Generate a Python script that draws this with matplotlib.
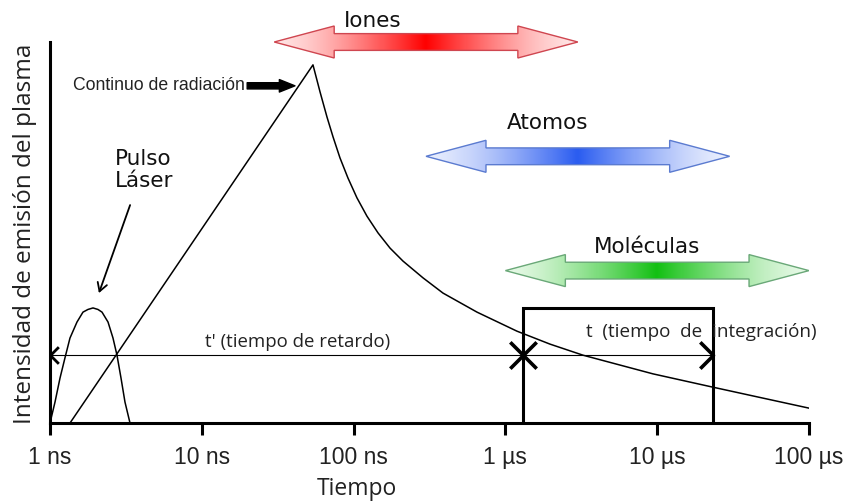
import numpy as np
import matplotlib
matplotlib.use("Agg")
import matplotlib.pyplot as plt
from matplotlib.patches import Polygon, FancyArrowPatch
from matplotlib.collections import PolyCollection
from matplotlib.path import Path
from matplotlib.colors import to_rgb

# Time axis (ns)
tick_times = [1, 10, 100, 1e3, 1e4, 1e5]
tick_labels = ["1 ns", "10 ns", "100 ns", "1 µs", "10 µs", "100 µs"]

# Laser pulse profile
pulse_t = [1.0, 1.079, 1.164, 1.255, 1.354, 1.506, 1.649, 1.778, 1.92, 2.07,
           2.201, 2.411, 2.6, 2.762, 2.936, 3.118, 3.365]
pulse_i = [0, 5.5, 11.8, 17.1, 22.3, 26.5, 29.1, 29.8, 30.2, 29.8,
           29.1, 26.5, 22.3, 17.8, 11.8, 5.5, 0]

# Plasma continuum emission: linear rise (log time) then decay
plasma_t = [1.355, 54, 60.1, 66.8, 73.2, 81.3, 91.8, 105.2, 122.4, 144.8,
            173.8, 211.5, 286.5, 388, 650, 1192, 1968, 3244, 9376,
            23300, 42800, 100000]
plasma_i = [0, 94.0, 86.9, 80.3, 75.1, 69.6, 64.3, 59.1, 54.3, 49.9,
            45.9, 42.5, 38.1, 34.1, 29.1, 24.1, 20.7, 17.8, 12.9,
            9.4, 7.1, 3.9]

# Delay and integration gate
delay_level = 17.8
gate_start = 1306
gate_end = 23300
gate_height = 30.2

# Lifetime ranges of emitting species
species = ["Iones", "Atomos", "Moléculas"]
species_start = [30, 300, 1000]
species_end = [3000, 30000, 100000]
species_level = [100, 70, 40]
species_color = ["#ff0000", "#2a5cf0", "#12c012"]
species_edge = ["#cf4650", "#5b7bd0", "#6aa878"]
species_label_t = [134, 1909, 8570]
species_label_i = [105.5, 78.7, 46.2]

TEXT_FONT = ["Open Sans", "DejaVu Sans"]
LABEL_FONT = ["DejaVu Sans"]
TICK_FONT = ["Liberation Sans", "DejaVu Sans"]

fig = plt.figure(figsize=(8.44, 5.04), dpi=100)
ax = fig.add_axes([50 / 844, 1 - 423 / 504, 759 / 844, 110 * 3.81 / 504])
ax.set_xscale("log")
ax.set_xlim(tick_times[0], tick_times[-1])
ax.set_ylim(0, 110)

for side in ("top", "right"):
    ax.spines[side].set_visible(False)
ax.spines["left"].set_bounds(0, 100)
ax.spines["left"].set_linewidth(2.2)
ax.spines["bottom"].set_linewidth(2.2)
ax.set_yticks([])
ax.set_xticks(tick_times)
ax.set_xticklabels(tick_labels, fontfamily=TICK_FONT, fontsize=16.5, color="#222222")
ax.xaxis.set_minor_locator(matplotlib.ticker.NullLocator())
ax.tick_params(axis="x", direction="out", length=8.6, width=2.2, pad=8)

# Curves
ax.plot(pulse_t, pulse_i, color="black", lw=1.1, solid_joinstyle="round")
ax.plot(plasma_t, plasma_i, color="black", lw=1.1, solid_joinstyle="round")

# Integration gate box
ax.plot([gate_start, gate_start, gate_end, gate_end],
        [0, gate_height, gate_height, 0], color="black", lw=2.2,
        solid_joinstyle="miter")

# Delay line and gate span
ax.plot([tick_times[0], gate_end], [delay_level, delay_level], color="black", lw=0.8)
head_right = Path([(-1.0, 1.0), (0.0, 0.0), (-1.0, -1.0)],
                  [Path.MOVETO, Path.LINETO, Path.LINETO])
head_left = Path([(1.0, 1.0), (0.0, 0.0), (1.0, -1.0)],
                 [Path.MOVETO, Path.LINETO, Path.LINETO])
ax.plot([tick_times[0]], [delay_level], marker=head_left, ms=12, mew=2.0,
        mfc="none", mec="black", clip_on=False)
ax.plot([gate_start], [delay_level], marker=head_right, ms=19, mew=2.6,
        mfc="none", mec="black")
ax.plot([gate_start], [delay_level], marker=head_left, ms=19, mew=2.6,
        mfc="none", mec="black")
ax.plot([gate_end], [delay_level], marker=head_right, ms=19, mew=2.6,
        mfc="none", mec="black")

ax.text(43, 21.3, "t' (tiempo de retardo)", fontfamily=TEXT_FONT, fontsize=13.4,
        ha="center", va="center", color="#222222")
ax.text(19450, 23.9, "t  (tiempo  de  integración)", fontfamily=TEXT_FONT,
        fontsize=13.6, ha="center", va="center", color="#222222")

# Laser pulse label
ax.text(2.68, 66.4, "Pulso\nLáser", fontfamily=LABEL_FONT, fontsize=15.5,
        ha="left", va="center", linespacing=1.1, color="#111111")
ax.annotate("", xy=(2.10, 34.1), xytext=(3.37, 57.2),
            arrowprops=dict(arrowstyle="->,head_length=0.6,head_width=0.35",
                            lw=1.3, color="black", shrinkA=0, shrinkB=0))

# Continuum label with bold arrow
ax.text(19.3, 88.5, "Continuo de radiación", fontfamily=TICK_FONT, fontsize=12.7,
        ha="right", va="center", color="#222222")
ax.add_patch(FancyArrowPatch((19.9, 88.5), (41.1, 88.5),
                             arrowstyle="simple,head_length=0.75,head_width=0.6,tail_width=0.3",
                             mutation_scale=15, color="black", shrinkA=0, shrinkB=0))

# Species double arrows with gradient fill
HEAD_LEN = 0.395   # decades
HEAD_HALF = 4.2
SHAFT_HALF = 2.2
for name, t0, t1, lvl, col, edge, lt, li in zip(species, species_start, species_end,
                                                 species_level, species_color,
                                                 species_edge, species_label_t,
                                                 species_label_i):
    u0, u1 = np.log10(t0), np.log10(t1)
    pts_u = [(u0, lvl), (u0 + HEAD_LEN, lvl + HEAD_HALF), (u0 + HEAD_LEN, lvl + SHAFT_HALF),
             (u1 - HEAD_LEN, lvl + SHAFT_HALF), (u1 - HEAD_LEN, lvl + HEAD_HALF), (u1, lvl),
             (u1 - HEAD_LEN, lvl - HEAD_HALF), (u1 - HEAD_LEN, lvl - SHAFT_HALF),
             (u0 + HEAD_LEN, lvl - SHAFT_HALF), (u0 + HEAD_LEN, lvl - HEAD_HALF)]
    xy = [(10 ** u, v) for u, v in pts_u]
    outline = Polygon(xy, closed=True, facecolor="none", edgecolor=edge, lw=1.0, zorder=3)
    ax.add_patch(outline)

    edges_u = np.linspace(u0, u1, 301)
    mids = 0.5 * (edges_u[:-1] + edges_u[1:])
    s = np.abs(2 * (mids - 0.5 * (u0 + u1)) / (u1 - u0))
    w = (1 - s) ** 1.4
    c = np.array(to_rgb(col))
    pale = 0.9 * np.ones(3) + 0.1 * c
    colors = [pale + wi * (c - pale) for wi in w]
    strips = [[(10 ** a, lvl - HEAD_HALF - 1), (10 ** b, lvl - HEAD_HALF - 1),
               (10 ** b, lvl + HEAD_HALF + 1), (10 ** a, lvl + HEAD_HALF + 1)]
              for a, b in zip(edges_u[:-1], edges_u[1:])]
    coll = PolyCollection(strips, facecolors=colors, edgecolors=colors, linewidths=0.3,
                          zorder=2)
    ax.add_collection(coll)
    coll.set_clip_path(outline)

    ax.text(lt, li, name, fontfamily=LABEL_FONT, fontsize=15.5, ha="center",
            va="center", color="#111111")

# Axis titles
fig.text(357 / 844, 1 - 489 / 504, "Tiempo", fontfamily=TEXT_FONT, fontsize=16.5,
         ha="center", va="center", color="#222222")
fig.text(25 / 844, 1 - 234 / 504, "Intensidad de emisión del plasma",
         fontfamily=TEXT_FONT, fontsize=17.5, rotation=90, ha="center", va="center",
         color="#222222")

fig.savefig("out.png", dpi=100)
